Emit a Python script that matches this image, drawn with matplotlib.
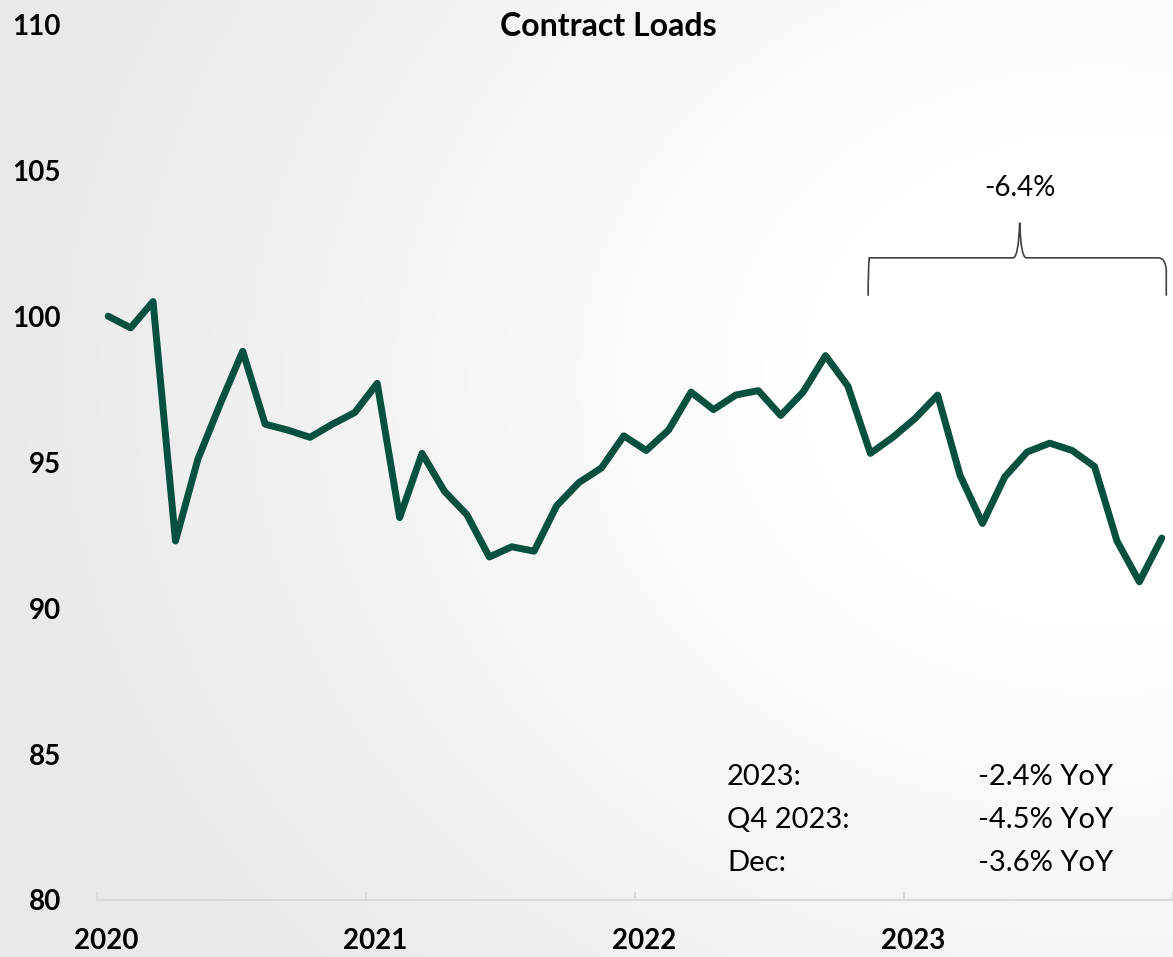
import numpy as np
import matplotlib.pyplot as plt
from matplotlib.path import Path
from matplotlib.patches import PathPatch

# Contract loads index, monthly Jan 2020 - Dec 2023
years = ['2020', '2021', '2022', '2023']
loads = [100.0, 99.6, 100.5, 92.3, 95.1, 97.0, 98.8, 96.3, 96.1, 95.85, 96.3, 96.7,
         97.7, 93.1, 95.3, 94.0, 93.2, 91.75, 92.1, 91.95, 93.5, 94.3, 94.8, 95.9,
         95.4, 96.1, 97.4, 96.8, 97.3, 97.45, 96.6, 97.4, 98.65, 97.6, 95.3, 95.85,
         96.5, 97.3, 94.55, 92.9, 94.5, 95.35, 95.65, 95.4, 94.85, 92.3, 90.9, 92.4]
stat_names = ['2023:', 'Q4 2023:', 'Dec:']
stat_values = ['-2.4% YoY', '-4.5% YoY', '-3.6% YoY']
brace_label = '-6.4%'

plt.rcParams['font.family'] = ['Lato', 'DejaVu Sans']

fig = plt.figure(figsize=(11.73, 9.57), dpi=100)

# soft grey-to-white background
bg = fig.add_axes([0, 0, 1, 1], zorder=-10)
yy, xx = np.mgrid[0:957, 0:1173]
d = np.hypot(xx - 1100, (yy - 380) * 1.2)
shade = 1 - 0.085 * np.clip((d - 300) / 800, 0, 1)
bg.imshow(np.dstack([shade] * 3), aspect='auto')
bg.axis('off')

ax = fig.add_axes([0.0827, 0.0596, 0.9173, 0.915])
ax.set_facecolor('none')
x = np.arange(len(loads))
ax.plot(x, loads, color='#05503F', lw=5, solid_joinstyle='round', solid_capstyle='round')

ax.set_xlim(-0.5, len(loads) - 0.5)
ax.set_ylim(80, 110)
for s in ['top', 'right', 'left']:
    ax.spines[s].set_visible(False)
ax.spines['bottom'].set_color('#d9d9d9')
ax.spines['bottom'].set_linewidth(1.5)

ax.set_yticks(range(80, 111, 5))
ax.tick_params(axis='y', length=0, pad=26, labelsize=20)
for lab in ax.get_yticklabels():
    lab.set_fontweight('bold')

ax.set_xticks(np.arange(0, len(loads) + 1, 12) - 0.5)
ax.set_xticklabels([])
ax.tick_params(axis='x', which='major', direction='in', length=6, width=1.5, color='#d9d9d9')
ax.set_xticks(np.arange(len(years)) * 12 - 0.1, minor=True)
ax.set_xticklabels(years, minor=True, fontweight='bold', fontsize=20)
ax.tick_params(axis='x', which='minor', length=0, pad=20)

fig.text(0.519, 0.972, 'Contract Loads', ha='center', va='center', fontsize=23, fontweight='bold')

# curly brace over the last ~14 months
bx0, bx1, bmid = 33.9, 47.2, 40.66
yb, yh, ytip = 100.7, 102.0, 103.2
verts = [(bx0, yb), (bx0, yh - 0.4), (bx0 + 0.05, yh), (bx0 + 0.35, yh),
         (bmid - 0.3, yh), (bmid - 0.05, yh), (bmid, ytip),
         (bmid, ytip), (bmid + 0.05, yh), (bmid + 0.3, yh),
         (bx1 - 0.35, yh), (bx1 - 0.05, yh), (bx1, yh - 0.4), (bx1, yb)]
codes = [Path.MOVETO, Path.CURVE3, Path.CURVE3, Path.LINETO,
         Path.LINETO, Path.CURVE3, Path.CURVE3,
         Path.MOVETO, Path.CURVE3, Path.CURVE3,
         Path.LINETO, Path.CURVE3, Path.CURVE3, Path.LINETO]
ax.add_patch(PathPatch(Path(verts, codes), fill=False, edgecolor='#404040', lw=1.2))
ax.text(bmid, 104.4, brace_label, ha='center', va='center', fontsize=20)

for i, (n, v) in enumerate(zip(stat_names, stat_values)):
    yv = 84.2 - i * 1.47
    ax.text(27.6, yv, n, ha='left', va='center', fontsize=21)
    ax.text(38.8, yv, v, ha='left', va='center', fontsize=21)

fig.savefig('out.png', dpi=100)
